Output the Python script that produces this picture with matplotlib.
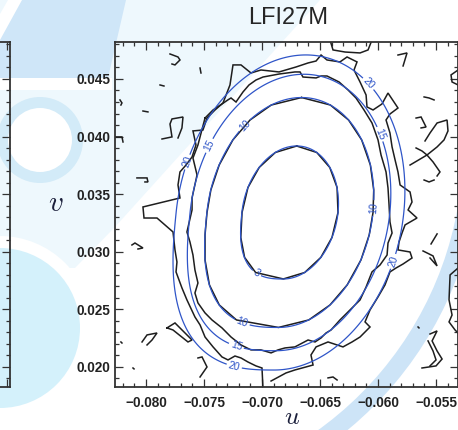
import numpy as np
import matplotlib
matplotlib.use("Agg")
import matplotlib.pyplot as plt
from matplotlib.patches import Polygon, Circle, Wedge, Rectangle
from matplotlib.transforms import Affine2D
from matplotlib.ticker import MultipleLocator, FuncFormatter

plt.rcParams["mathtext.fontset"] = "cm"
plt.rcParams["font.family"] = ["Liberation Sans", "DejaVu Sans"]

# ---------------- data ----------------
title = "LFI27M"
levels_db = [3, 10, 15, 20]

# fitted beam model
beam_u0 = -0.06759
beam_v0 = 0.03341
semi_major_10db = 0.00998      # along v
semi_minor_10db = 0.00716      # along u
shear = 0.10                   # u-offset of the beam axis per unit v
lower_left_shape = 2.7         # superellipse exponent of the lower-left quadrant
profile_power = 2.2

# measured contours, coordinates in units of 1e-3
meas3_u = [-67.01, -65.28, -64.16, -63.53, -63.45, -63.97, -64.93, -66.32,
           -68.16, -70.55, -71.50, -71.83, -71.72, -71.21, -70.24, -68.85]
meas3_v = [39.18, 38.62, 37.32, 35.58, 33.41, 31.24, 29.51, 28.20,
           27.64, 28.20, 29.51, 31.24, 33.41, 35.58, 37.32, 38.62]

meas10_u = [-66.59, -64.11, -62.54, -61.41, -60.66, -60.37, -60.43, -60.76,
            -61.47, -62.66, -64.14, -65.97, -68.58, -72.20, -73.68, -74.53,
            -74.91, -74.91, -74.74, -74.41, -73.69, -72.51, -71.03, -69.20]
meas10_v = [43.39, 42.74, 41.44, 39.71, 37.53, 35.36, 33.41, 31.46,
            29.29, 27.12, 25.38, 24.08, 23.43, 24.08, 25.38, 27.12,
            29.29, 31.46, 33.41, 35.36, 37.53, 39.71, 41.44, 42.74]

meas15_u = [-74.91, -74.22, -73.45, -72.93, -72.67, -72.24, -71.64, -71.12,
            -70.52, -69.91, -68.53, -67.16, -66.72, -66.47, -65.34, -64.91,
            -64.40, -63.36, -62.59, -61.90, -61.21, -60.52, -60.00, -59.74,
            -59.31, -59.14, -59.05, -58.97, -58.79, -59.14, -59.22, -59.83,
            -60.52, -61.03, -61.55, -62.67, -63.28, -64.05, -64.48, -64.91,
            -65.43, -66.03, -67.16, -68.02, -68.62, -69.22, -70.09, -70.95,
            -71.81, -72.67, -73.45, -74.31, -74.91, -75.52, -75.78, -75.52,
            -75.78, -75.95, -76.21, -76.47, -76.03, -76.03, -75.60, -75.95,
            -75.52, -75.34]
meas15_v = [41.61, 42.31, 42.83, 43.19, 43.35, 43.00, 43.87, 44.48,
            44.91, 45.17, 45.43, 45.61, 45.61, 45.17, 45.09, 45.26,
            45.26, 44.74, 44.05, 43.35, 42.31, 41.18, 39.71, 38.40,
            36.93, 35.54, 34.06, 32.59, 31.63, 30.76, 29.72, 28.85,
            28.25, 26.94, 25.82, 24.69, 24.08, 23.21, 22.95, 22.52,
            22.17, 22.34, 21.74, 21.65, 21.48, 21.22, 21.48, 21.48,
            21.91, 22.60, 23.39, 24.08, 24.69, 25.56, 26.42, 27.29,
            28.42, 29.72, 30.85, 31.72, 33.63, 34.67, 36.67, 38.14,
            39.27, 39.97]

meas20_u = [-69.91, -70.00, -70.52, -71.21, -71.81, -72.33, -72.93, -73.45,
            -74.22, -74.91, -75.34, -75.78, -76.47, -76.90, -77.41, -77.33,
            -77.50, -77.67, -79.05, -80.17, -80.26, -77.07, -77.24, -77.07,
            -76.55, -76.03, -75.69, -75.95, -75.09, -74.74, -74.05, -73.36,
            -72.76, -72.50, -71.81, -70.95, -70.09, -68.53, -67.07, -66.03,
            -65.34, -64.91, -64.40, -63.28, -62.67, -61.81, -62.07, -61.55,
            -61.03, -60.95, -60.43, -59.66, -59.14, -58.28, -58.97, -59.31,
            -58.97, -58.79, -58.53, -58.28, -58.10, -57.24, -57.07, -57.41,
            -56.64, -57.67, -57.93, -58.19, -58.28, -57.24, -57.07, -57.84,
            -58.45, -58.97, -59.40, -60.00, -60.69, -61.12, -60.69, -61.55,
            -62.24, -63.02, -64.31, -65.34, -65.78, -65.60, -66.21, -67.16,
            -67.93, -69.22]
meas20_v = [18.00, 19.91, 20.09, 20.43, 20.78, 20.95, 20.61, 20.87,
            21.74, 22.60, 23.65, 24.34, 25.82, 26.86, 28.25, 29.11,
            30.16, 31.72, 32.93, 32.93, 33.89, 34.67, 35.80, 36.93,
            37.53, 38.23, 39.27, 40.49, 40.57, 41.61, 42.31, 42.92,
            44.48, 46.22, 46.22, 45.52, 45.78, 45.61, 46.04, 46.39,
            46.56, 47.08, 46.65, 46.48, 46.91, 46.48, 45.78, 44.74,
            43.61, 42.57, 42.31, 42.83, 43.78, 42.48, 41.96, 41.44,
            40.31, 39.10, 37.97, 36.93, 35.80, 35.19, 34.32, 33.63,
            32.93, 32.33, 31.63, 30.85, 30.16, 29.98, 29.46, 28.94,
            28.59, 28.25, 27.12, 26.08, 24.95, 23.91, 23.47, 22.60,
            22.17, 21.74, 22.17, 21.74, 21.04, 20.17, 20.00, 19.74,
            19.48, 18.78]

# small noise contours of the measured map (units of 1e-3)
noise_u = [
    [-77.93, -77.24, -77.07, -77.50, -77.76],
    [-75.34, -75.26],
    [-78.79, -78.45],
    [-80.26, -79.83],
    [-78.62, -77.76, -77.93, -77.76, -76.81, -76.90, -77.24],
    [-82.24, -82.07, -82.16],
    [-82.67, -82.07, -81.98],
    [-80.78, -79.91, -79.83, -80.09],
    [-81.21, -80.95, -80.26, -80.69],
    [-80.34, -79.91, -79.05, -79.48, -79.91],
    [-78.19, -77.50, -76.03, -76.38, -77.67, -78.19],
    [-75.52, -75.17, -74.74, -75.34],
    [-82.16, -82.07],
    [-81.12, -81.03],
    [-64.14, -63.88, -62.84, -61.55, -60.86, -60.52],
    [-58.28, -57.50, -57.84],
    [-53.10, -53.71, -53.62, -53.10],
    [-56.03, -55.60, -55.17],
    [-56.72, -56.29, -55.86, -56.29],
    [-55.95, -55.52, -54.91, -54.05, -53.97, -54.31, -54.91, -55.78, -57.24],
    [-56.72, -56.21, -55.78, -55.26, -54.66, -54.91],
    [-56.03, -55.60, -55.17],
    [-55.43, -54.91],
    [-56.12, -55.26, -54.91, -55.52],
    [-53.10, -53.79, -53.88, -53.62, -53.88, -53.36, -53.10],
    [-55.52, -54.91, -55.34, -54.91, -54.48, -55.00, -56.21],
    [-55.69, -55.26, -55.00, -55.52],
    [-64.31, -63.88, -63.53],
    [-56.55, -56.47],
]
noise_v = [
    [47.17, 46.91, 46.65, 46.22, 46.30],
    [45.95, 45.52],
    [44.48, 44.39],
    [42.22, 42.14],
    [39.79, 39.97, 41.09, 41.53, 41.70, 40.75, 39.88],
    [43.18, 42.92, 42.74],
    [39.97, 39.97, 39.53],
    [36.41, 36.41, 36.06, 36.06],
    [30.59, 30.76, 30.33, 30.24],
    [22.17, 22.78, 22.95, 22.34, 21.91],
    [23.39, 23.82, 22.34, 22.17, 23.21, 23.39],
    [20.78, 20.87, 20.00, 19.13],
    [22.17, 22.08],
    [19.91, 19.83],
    [48.39, 47.52, 47.34, 47.26, 47.52, 48.39],
    [47.08, 47.26, 46.13],
    [45.78, 45.35, 44.74, 44.48],
    [43.44, 43.35, 43.18],
    [41.61, 41.70, 40.83, 40.75],
    [39.62, 40.31, 41.18, 41.44, 40.49, 39.71, 39.10, 38.40, 37.53],
    [39.01, 38.75, 38.40, 37.80, 36.93, 36.58],
    [36.23, 36.06, 36.23],
    [30.68, 31.55],
    [30.07, 29.64, 28.77, 29.46],
    [28.59, 27.99, 25.82, 24.51, 23.91, 23.21, 22.95],
    [22.86, 23.13, 22.26, 21.39, 20.69, 20.09, 19.91],
    [22.26, 21.39, 20.61, 20.09],
    [19.05, 19.13, 18.87],
    [23.47, 23.39],
]

# ---------------- figure ----------------
W, H = 458, 430
fig = plt.figure(figsize=(W / 100, H / 100), dpi=100)
fig.patch.set_facecolor("white")

# page decoration behind the panels (pixel coordinates, y downward)
T = Affine2D().scale(1 / W, -1 / H).translate(0, 1) + fig.transFigure


def deco(patch):
    patch.set_transform(T)
    patch.set_zorder(-10)
    fig.add_artist(patch)


deco(Polygon([(0, 0), (320, 0), (180, 155), (115, 227), (75, 268), (0, 268)],
             closed=True, fc="#eef8fd", ec="none"))
deco(Polygon([(18, 0), (126, 0), (108, 78), (0, 78), (0, 30)],
             closed=True, fc="#cfe6f8", ec="none"))
deco(Polygon([(8, 0), (22, 0), (0, 40), (0, 14)], closed=True, fc="white", ec="none"))
deco(Rectangle((0, 78), 112, 12, fc="white", ec="none"))
deco(Circle((40, 140), 43, fc="#d3ebf8", ec="none"))
deco(Circle((40, 140), 32, fc="white", ec="none"))
deco(Circle((0, 328), 92, fc="white", ec="none"))
deco(Circle((0, 328), 80, fc="#d4f1fb", ec="none"))
deco(Wedge((114, 147), 367, 0, 80, width=18, fc="#cde4f7", ec="none"))

spine_col = "#333333"

# neighbouring panel (only its right edge is visible)
ax0 = fig.add_axes([-330 / W, (H - 387) / H, 340 / W, 345 / H])
ax0.set_facecolor("none")
ax0.set_xlim(0, 340)
ax0.set_ylim(0.01826, 0.04821)
ax0.yaxis.set_major_locator(MultipleLocator(0.005))
ax0.yaxis.set_minor_locator(MultipleLocator(0.001))
ax0.set_xticks([337])
ax0.tick_params(which="both", direction="in", left=False, right=True,
                top=True, bottom=True, labelleft=False, labelbottom=False,
                width=0.9, color=spine_col)
ax0.tick_params(which="major", length=6)
ax0.tick_params(which="minor", length=3)
for s in ax0.spines.values():
    s.set_linewidth(1.3)
    s.set_color(spine_col)

# main panel
ax = fig.add_axes([115 / W, (H - 387) / H, (457.5 - 115) / W, 345 / H])
ax.set_facecolor("none")
ax.set_xlim(-0.08267, -0.05315)
ax.set_ylim(0.01826, 0.04821)

# model beam attenuation (dB below peak)
uu = np.linspace(-0.0840, -0.0520, 500)
vv = np.linspace(0.0170, 0.0495, 500)
U, V = np.meshgrid(uu, vv)
dv = V - beam_v0
du = U - beam_u0 - shear * dv
n = np.where((du < 0) & (dv < 0), lower_left_shape, 2.0)
rr = (np.abs(du) / semi_minor_10db) ** n + (np.abs(dv) / semi_major_10db) ** n
att = 10.0 * rr ** (profile_power / n)

black = "#1e1e1e"
blue = "#2f55c8"

# measured contours
for cu, cv, closed in [(meas3_u, meas3_v, True), (meas10_u, meas10_v, True),
                       (meas15_u, meas15_v, True), (meas20_u, meas20_v, False)]:
    cu = np.asarray(cu) * 1e-3
    cv = np.asarray(cv) * 1e-3
    if closed:
        cu = np.append(cu, cu[0])
        cv = np.append(cv, cv[0])
    ax.plot(cu, cv, color=black, lw=1.1, zorder=2, solid_joinstyle="miter")
for fu, fv in zip(noise_u, noise_v):
    ax.plot(np.asarray(fu) * 1e-3, np.asarray(fv) * 1e-3, color=black, lw=1.1,
            zorder=2, solid_joinstyle="miter")

cs = ax.contour(U, V, att, levels=levels_db, colors=blue, linewidths=0.9, zorder=3)
label_spots = [(-0.07043, 0.02816),
               (-0.07155, 0.04101), (-0.06043, 0.03380), (-0.07172, 0.02382),
               (-0.07466, 0.03927), (-0.06043, 0.03997), (-0.07224, 0.02174),
               (-0.07621, 0.03771), (-0.06095, 0.04448), (-0.05853, 0.02911),
               (-0.07241, 0.02000)]
lbls = ax.clabel(cs, fmt="%d", fontsize=7.5, inline=True, inline_spacing=2,
                 manual=label_spots)
for tx in lbls:
    tx.set_color(blue)

# axes styling
fmt = FuncFormatter(lambda x, pos: f"{x:.3f}".replace("-", "\u2212"))
for axis in (ax.xaxis, ax.yaxis):
    axis.set_major_locator(MultipleLocator(0.005))
    axis.set_minor_locator(MultipleLocator(0.001))
    axis.set_major_formatter(fmt)
ax.tick_params(which="both", direction="in", top=True, right=True,
               width=0.9, color=spine_col, labelsize=9.8, labelcolor="#222222")
ax.tick_params(which="major", length=6)
ax.tick_params(which="minor", length=3)
ax.tick_params(axis="x", pad=6.5)
ax.tick_params(axis="y", pad=3.5)
for lab in ax.get_xticklabels() + ax.get_yticklabels():
    lab.set_fontweight("bold")
for s in ax.spines.values():
    s.set_linewidth(1.3)
    s.set_color(spine_col)

fig.text(288 / W, 1 - 17.5 / H, title, ha="center", va="center",
         fontsize=17, color="#262626")
fig.text(56 / W, 1 - 203 / H, r"$v$", ha="center", va="center",
         fontsize=21, color="#1b1f3b")
fig.text(292 / W, 1 - 424 / H, r"$u$", ha="center", va="baseline",
         fontsize=18.5, color="#1b1f3b")

fig.savefig("out.png", dpi=100, facecolor="white")
